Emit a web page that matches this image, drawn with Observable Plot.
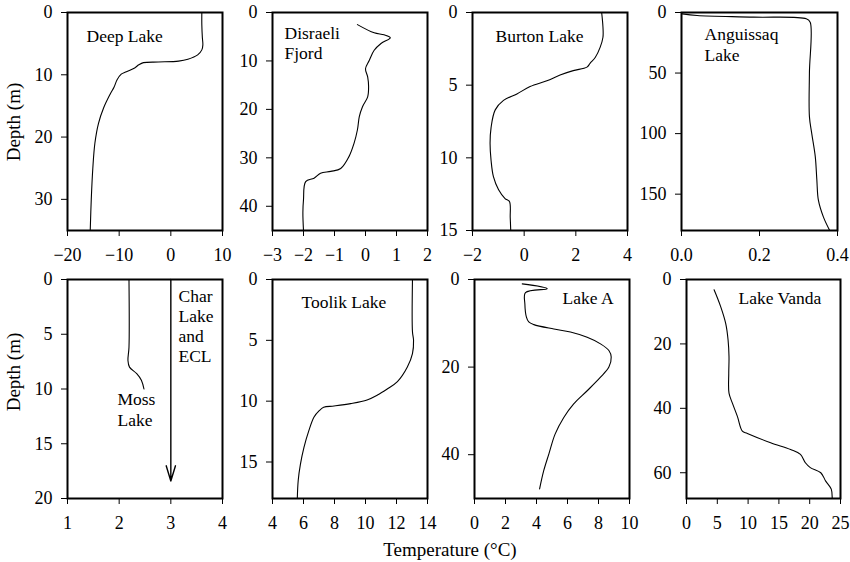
<!DOCTYPE html>
<html><head><meta charset="utf-8">
<script src="https://cdn.jsdelivr.net/npm/d3@7"></script>
<script src="https://cdn.jsdelivr.net/npm/@observablehq/plot@0.6"></script>
<style>
body{margin:0;background:#fff}
#c{position:relative;width:850px;height:562px;font-family:"Liberation Serif",serif;overflow:hidden}
#c svg{position:absolute}
#c svg, #c svg text{font-family:"Liberation Serif",serif !important}
</style></head><body><div id="c"></div>
<script>
// ---- data (temperature °C, depth m) ----
const deepT = [6.0,6.0,6.1,6.2,6.0,5.2,3.3,1.5,-2.4,-5.3,-6.2,-7.0,-8.6,-9.6,-10.4,-11.0,-11.8,-13.0,-14.0,-14.7,-15.1,-15.4,-15.6];
const deepD = [0,2,4,5.2,6.0,6.8,7.5,7.8,7.95,8.05,8.4,8.9,9.5,9.9,10.8,12,13.2,15.3,17.8,21,25,30,35];

const disT = [-0.26,0.28,0.6,0.8,0.5,0.28,0.12,0.0,0.07,0.1,0.07,-0.1,-0.2,-0.26,-0.37,-0.53,-0.8,-1.12,-1.45,-1.66,-1.93,-2.0,-2.02,-2.0];
const disD = [2.5,4.2,4.6,5.2,6.4,7.8,9.9,11.6,13.3,15.3,17.4,19.5,21.5,24.2,27,29.7,32.2,32.8,33.2,34.2,34.9,38.6,41.3,45];

const burT = [3.0,3.05,3.05,2.94,2.75,2.55,2.43,1.9,1.39,0.88,0.23,-0.28,-0.8,-1.12,-1.28,-1.32,-1.28,-1.19,-0.99,-0.74,-0.57,-0.54,-0.52];
const burD = [0,1.0,1.7,2.4,3.1,3.5,3.76,4.0,4.3,4.7,5.1,5.6,6.05,6.7,7.9,9.0,10.2,11.3,12.2,12.8,13.0,14.1,15];

const angT = [0.002,0.04,0.185,0.32,0.33,0.328,0.328,0.334,0.343,0.347,0.351,0.364,0.38];
const angD = [1.1,2.5,3.8,5.2,8,50,86,100,119,138,155,169,180];

const mossT = [2.19,2.19,2.17,2.2,2.34,2.43,2.48];
const mossD = [0,6.2,7.4,8.0,8.6,9.2,10];

const charT = [3,3];
const charD = [0,18.4];

const tooT = [13.03,13.03,13.1,13.03,12.7,12.06,11.4,10.77,10.1,9.04,7.97,7.3,7.0,6.68,6.35,6.03,5.8,5.66,5.6];
const tooD = [0,4.3,5.0,6.1,7.2,8.4,9.0,9.5,9.9,10.2,10.4,10.5,10.8,11.3,12.4,13.8,15.2,16.5,18];

const laT = [3.08,4.69,3.29,3.25,3.35,3.5,3.83,5.12,6.19,7.27,8.13,8.67,8.82,8.67,8.13,7.27,6.4,5.76,5.2,4.8,4.47,4.2];
const laD = [1.0,2.1,3.0,5.6,8.6,9.7,10.3,11.3,12.0,13.2,14.7,16.2,17.7,20.0,22.3,25.4,28.4,31.5,35.3,39.8,43.6,47.8];

const vanT = [4.48,5.56,6.37,6.75,6.9,6.86,6.9,7.45,8.26,9.07,9.88,13.66,16.9,18.5,19.3,20.1,21.8,22.6,23.5,23.65];
const vanD = [3.2,8.5,13.7,18.8,24.0,29.1,35.3,38.4,42.5,47.1,47.8,50.7,52.8,54.3,56.9,58.4,60.0,62.6,65.1,68];

// ---- axes ----
const xTicks = {
  deep:[-20,-10,0,10], dis:[-3,-2,-1,0,1,2], bur:[-2,0,2,4], ang:[0,0.2,0.4],
  moss:[1,2,3,4], too:[4,6,8,10,12,14], la:[0,2,4,6,8,10], van:[0,5,10,15,20,25]
};
const yTicks = {
  deep:[0,10,20,30], dis:[0,10,20,30,40], bur:[0,5,10,15], ang:[0,50,100,150],
  moss:[0,5,10,15,20], too:[0,5,10,15], la:[0,20,40], van:[0,20,40,60]
};
const names = {
  deep:"Deep Lake", dis:"Disraeli\nFjord", bur:"Burton Lake", ang:"Anguissaq\nLake",
  char:"Char\nLake\nand\nECL", moss:"Moss\nLake", too:"Toolik Lake", la:"Lake A", van:"Lake Vanda"
};

const zip = (T, D) => T.map((t, i) => ({t, d: D[i]}));
const C = document.getElementById("c");
const FONT = '"Liberation Serif", serif';
const intFmt = d3.format("d");

function panel(o) {
  const ml = 46, mr = 8, mt = 8, mb = 42;
  const W = o.R - o.L + ml + mr, H = o.B - o.T + mt + mb;
  const marks = [
    Plot.axisX({ticks: o.xt, tickSize: 6, tickPadding: 12, tickFormat: o.xf || intFmt, label: null, fontSize: 18}),
    Plot.axisY({ticks: o.yt, tickSize: 6, tickPadding: 9, tickFormat: intFmt, label: null, fontSize: 18}),
    ...o.marks,
    Plot.frame({stroke: "black", strokeWidth: 2})
  ];
  const svg = Plot.plot({
    width: W, height: H, marginLeft: ml, marginRight: mr, marginTop: mt, marginBottom: mb,
    x: {domain: o.xd}, y: {domain: o.yd, reverse: true},
    style: {fontFamily: FONT, fontSize: "18px", color: "black", background: "transparent", overflow: "visible"},
    marks
  });
  svg.style.left = (o.L - ml) + "px";
  svg.style.top = (o.T - mt) + "px";
  C.appendChild(svg);
}
const line = (T, D) => Plot.line(zip(T, D), {x: "t", y: "d", stroke: "black", strokeWidth: 1.1, curve: "catmull-rom"});
const label = (txt, dx, dy) => Plot.text([txt], {frameAnchor: "top-left", textAnchor: "start", lineAnchor: "middle", dx, dy, fontSize: 17.5, lineHeight: 1.15, fill: "black"});

panel({L:67,T:12,R:222,B:230, xd:[-20,10], yd:[0,35], xt:xTicks.deep, yt:yTicks.deep,
  marks:[line(deepT, deepD), label(names.deep, 19, 23)]});
panel({L:272,T:12,R:427,B:230, xd:[-3,2], yd:[0,45], xt:xTicks.dis, yt:yTicks.dis,
  marks:[line(disT, disD), label(names.dis, 12, 30)]});
panel({L:472,T:12,R:627,B:230, xd:[-2,4], yd:[0,15], xt:xTicks.bur, yt:yTicks.bur,
  marks:[line(burT, burD), label(names.bur, 23, 23)]});
panel({L:681,T:12,R:837,B:230, xd:[0,0.4], yd:[0,180], xt:xTicks.ang, yt:yTicks.ang, xf: d3.format(".1f"),
  marks:[line(angT, angD), label(names.ang, 23, 31.5)]});

panel({L:67,T:279,R:222,B:498, xd:[1,4], yd:[0,20], xt:xTicks.moss, yt:yTicks.moss,
  marks:[line(mossT, mossD),
    Plot.arrow([{x1: charT[0], y1: charD[0], x2: charT[1], y2: charD[1]}], {x1:"x1", y1:"y1", x2:"x2", y2:"y2", stroke:"black", strokeWidth:1.4, headLength:17, headAngle:34}),
    label(names.char, 111, 46), label(names.moss, 50, 129.5)]});
panel({L:272,T:279,R:427,B:498, xd:[4,14], yd:[0,18], xt:xTicks.too, yt:yTicks.too,
  marks:[line(tooT, tooD), label(names.too, 29, 22)]});
panel({L:474,T:279,R:629,B:498, xd:[0,10], yd:[0,50], xt:xTicks.la, yt:yTicks.la,
  marks:[line(laT, laD), label(names.la, 88, 18)]});
panel({L:686,T:279,R:840,B:498, xd:[0,25], yd:[0,68], xt:xTicks.van, yt:yTicks.van,
  marks:[line(vanT, vanD), label(names.van, 52, 18)]});

// axis titles
const ov = d3.select(C).append("svg").attr("width", 850).attr("height", 562).style("left","0px").style("top","0px")
  .style("font-family", FONT).style("font-size", "19px");
[122, 372].forEach(cy => ov.append("text").attr("transform", `translate(13,${cy}) rotate(-90)`)
  .attr("text-anchor", "middle").attr("dy", "0.35em").text("Depth (m)"));
ov.append("text").attr("x", 450).attr("y", 549).attr("text-anchor", "middle").attr("dy", "0.35em").text("Temperature (°C)");
</script></body></html>
